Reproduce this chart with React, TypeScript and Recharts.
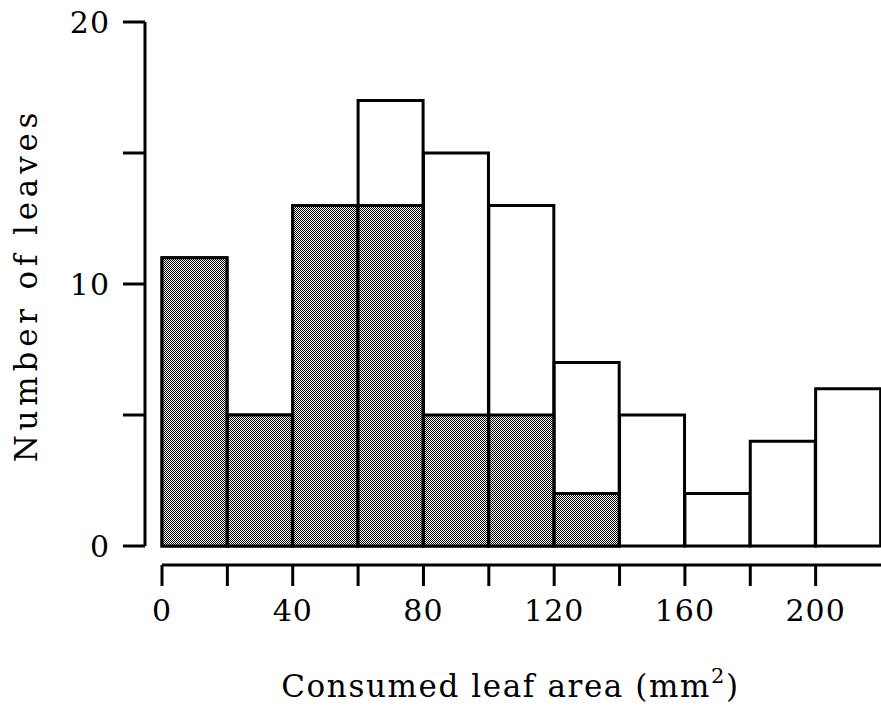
import { ComposedChart, Bar, XAxis, YAxis } from 'recharts'

// bins of 20 mm2, lower edge
const binStarts = [0, 20, 40, 60, 80, 100, 120, 140, 160, 180, 200]
// open bars (all leaves)
const totalLeaves = [11, 5, 13, 17, 15, 13, 7, 5, 2, 4, 6]
// shaded bars
const shadedLeaves = [11, 5, 13, 13, 5, 5, 2, 0, 0, 0, 0]

const xTicks = [0, 20, 40, 60, 80, 100, 120, 140, 160, 180, 200]
const yTicks = [0, 5, 10, 15, 20]

const data = binStarts.map((start, i) => ({
  bin: `${start}`,
  start,
  total: totalLeaves[i],
  shaded: shadedLeaves[i],
}))

const FONT = '"DejaVu Serif", serif'

function XLabel(props: any) {
  const vb = props.viewBox || {}
  return (
    <text
      x={vb.x + vb.width / 2 - 11}
      y={vb.y + 132}
      textAnchor="middle"
      fontFamily={FONT}
      fontSize={31}
      letterSpacing={1.6}
      fill="#000"
    >
      Consumed leaf area (mm
      <tspan dy={-14} fontSize={21}>2</tspan>
      <tspan dy={14}>)</tspan>
    </text>
  )
}

function YLabel(props: any) {
  const vb = props.viewBox || {}
  const cx = 26
  const cy = vb.y + vb.height / 2 + 1
  return (
    <text
      x={cx}
      y={cy}
      transform={`rotate(-90 ${cx} ${cy})`}
      textAnchor="middle"
      dominantBaseline="central"
      fontFamily={FONT}
      fontSize={31}
      letterSpacing={4.8}
      fill="#000"
    >
      Number of leaves
    </text>
  )
}

export default function App() {
  return (
    <div style={{ position: 'absolute', left: 0, top: 0, width: 881, height: 716, background: '#fff' }}>
      <svg width={0} height={0} style={{ position: 'absolute' }}>
        <defs>
          <pattern id="stipple" width={2} height={2} patternUnits="userSpaceOnUse">
            <rect width={2} height={2} fill="#fff" />
            <rect x={0} y={0} width={1} height={1} fill="#000" />
            <rect x={1} y={1} width={1} height={1} fill="#000" />
          </pattern>
        </defs>
      </svg>
      <ComposedChart
        width={881}
        height={716}
        data={data}
        margin={{ top: 22, right: 0, bottom: 0, left: 0 }}
        barCategoryGap={0}
        barGap={0}
      >
        <XAxis xAxisId="a_open" dataKey="bin" height={19} axisLine={false} tickLine={false} tick={false} />
        <XAxis xAxisId="b_shade" dataKey="bin" height={0} hide />
        <XAxis
          xAxisId="c_num"
          dataKey="start"
          type="number"
          domain={[0, 220]}
          ticks={xTicks}
          allowDataOverflow
          height={151}
          stroke="#000"
          axisLine={{ stroke: '#000', strokeWidth: 3 }}
          tickLine={{ stroke: '#000', strokeWidth: 3 }}
          tickSize={21}
          tickMargin={14}
          tickFormatter={(v: number) => (v % 40 === 0 ? `${v}` : '')}
          tick={{ fill: '#000', fontFamily: FONT, fontSize: 30, letterSpacing: 1 }}
          label={<XLabel />}
        />
        <YAxis yAxisId="a_gap" type="number" domain={[0, 20]} width={17} axisLine={false} tickLine={false} tick={false} />
        <YAxis
          yAxisId="b_y"
          type="number"
          domain={[0, 20]}
          ticks={yTicks}
          width={145}
          axisLine={{ stroke: '#000', strokeWidth: 3 }}
          tickLine={{ stroke: '#000', strokeWidth: 3 }}
          tickSize={22}
          tickMargin={13}
          tickFormatter={(v: number) => (v % 10 === 0 ? `${v}` : '')}
          tick={{ fill: '#000', fontFamily: FONT, fontSize: 30, letterSpacing: 1 }}
          label={<YLabel />}
        />
        <Bar
          xAxisId="a_open"
          yAxisId="b_y"
          dataKey="total"
          fill="#fff"
          stroke="#000"
          strokeWidth={3}
          isAnimationActive={false}
        />
        <Bar
          xAxisId="b_shade"
          yAxisId="b_y"
          dataKey="shaded"
          fill="url(#stipple)"
          stroke="#000"
          strokeWidth={3}
          isAnimationActive={false}
        />
      </ComposedChart>
    </div>
  )
}
